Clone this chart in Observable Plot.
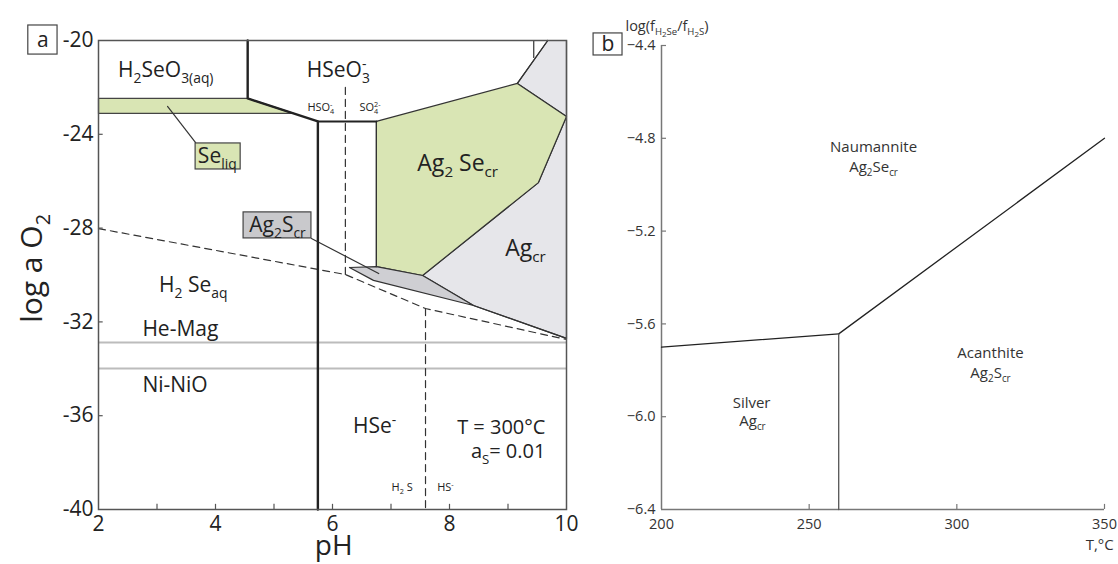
<!DOCTYPE html>
<html><head><meta charset="utf-8">
<script src="https://cdn.jsdelivr.net/npm/d3@7"></script>
<script src="https://cdn.jsdelivr.net/npm/@observablehq/plot@0.6"></script>
<style>
body{margin:0;background:#fff}
#wrap{position:relative;width:1118px;height:564px;overflow:hidden;background:#fff}
#pa,#pb{position:absolute;top:0}
#pa{left:0}
#pb{left:580px}
</style>
</head><body>
<div id="wrap"><div id="pa"></div><div id="pb"></div></div>
<script>
// ---------- Panel a data (pH, log aO2) ----------
const xTicksA = [2, 4, 6, 8, 10];
const xMinorA = [3, 4, 5, 6, 7, 8, 9];
const yTicksA = [-40, -36, -32, -28, -24, -20];
const agRegion = [[9.68,-20],[10,-20],[10,-32.7],[8.41,-31.30],[7.54,-30.02],[9.52,-26.06],[10,-23.24],[9.16,-21.83],[9.68,-20]];
const ag2seRegion = [[6.75,-23.45],[9.16,-21.83],[10,-23.24],[9.52,-26.06],[7.54,-30.02],[6.75,-29.64],[6.75,-23.45]];
const seLiqBand = [[2,-22.47],[4.55,-22.47],[5.33,-23.11],[2,-23.11],[2,-22.47]];
const ag2sRegion = [[6.29,-29.68],[6.75,-29.64],[7.54,-30.02],[8.41,-31.30],[6.70,-30.23],[6.29,-29.68]];
const thickLine = [[4.55,-20],[4.55,-22.47],[5.75,-23.45],[5.75,-40]];
const shelfLine = [[5.75,-23.45],[6.75,-23.45]];
const thinLines = [
  [[6.75,-23.45],[6.75,-29.64]],
  [[9.44,-20],[9.44,-20.72]],
  [[9.68,-20],[9.16,-21.83]],
  [[8.41,-31.30],[10,-32.7]],
  [[5.64,-28.44],[6.79,-29.94]],
  [[3.18,-22.81],[3.66,-24.35]]
];
const dashedLines = [
  [[2,-28.02],[6.22,-29.98],[7.59,-31.43],[10,-32.75]],
  [[6.22,-22.0],[6.22,-29.98]],
  [[7.59,-31.43],[7.59,-40]]
];
const buffers = [-32.88, -33.99];
const boxesA = [
  {x1:3.66, x2:4.43, y1:-24.39, y2:-25.50, fill:"#d9e5b4"},
  {x1:4.48, x2:5.64, y1:-27.33, y2:-28.44, fill:"#c9c9cc"},
  {x1:0.80, x2:1.30, y1:-19.36, y2:-20.60, fill:"#ffffff"}
];
const labelsMidA = [
  {t:"H_{2}SeO_{3(aq)}", x:3.15, y:-21.28, s:21},
  {t:"HSeO_{3}^{-}", x:6.10, y:-21.28, s:21},
  {t:"HSO_{4}^{-}", x:5.80, y:-22.86, s:11},
  {t:"SO_{4}^{2-}", x:6.64, y:-22.86, s:11},
  {t:"Ag_{2} Se_{cr}", x:8.14, y:-25.25, s:23},
  {t:"Ag_{cr}", x:9.30, y:-28.87, s:23},
  {t:"H_{2} Se_{aq}", x:3.62, y:-30.45, s:21},
  {t:"HSe^{-}", x:6.72, y:-36.45, s:21},
  {t:"H_{2} S", x:7.19, y:-39.06, s:11},
  {t:"HS^{-}", x:7.93, y:-39.06, s:11},
  {t:"Se_{liq}", x:4.03, y:-24.95, s:21},
  {t:"Ag_{2}S_{cr}", x:5.06, y:-27.89, s:21},
  {t:"a", x:1.05, y:-19.98, s:21},
  {t:"pH", x:6.02, y:-41.55, s:28}
];
const labelsStartA = [
  {t:"He-Mag", x:2.75, y:-32.32, s:21},
  {t:"Ni-NiO", x:2.75, y:-34.71, s:21}
];
const labelsEndA = [
  {t:"T = 300°C", x:9.64, y:-36.5, s:20},
  {t:"a_{S}= 0.01", x:9.64, y:-37.55, s:20}
];
const yTitleA = [{t:"log a O_{2}", x:0.87, y:-29.72}];

// ---------- Panel b data (T °C, log fH2Se/fH2S) ----------
const xTicksB = [200, 250, 300, 350];
const yTicksB = [-6.4, -6.0, -5.6, -5.2, -4.8, -4.4];
const silverBoundary = [[200,-5.70],[260,-5.643]];
const naumBoundary = [[260,-5.643],[350,-4.80]];
const acanBoundary = [[260,-5.643],[260,-6.4]];
const labelsMidB = [
  {t:"Naumannite", x:271.8, y:-4.84},
  {t:"Ag_{2}Se_{cr}", x:271.8, y:-4.926},
  {t:"Silver", x:230.5, y:-5.943},
  {t:"Ag_{cr}", x:230.8, y:-6.021},
  {t:"Acanthite", x:311.4, y:-5.728},
  {t:"Ag_{2}S_{cr}", x:311.4, y:-5.814}
];
const boxB = [{x1:177.0, x2:186.8, y1:-4.348, y2:-4.443}];
const letterB = [{t:"b", x:181.9, y:-4.396}];
const yTitleB = [{t:"log(f_{H}__{2}_{Se}/f_{H}__{2}_{S})", x:187.8, y:-4.318}];
const xTitleB = [{t:"T,°C", x:353.1, y:-6.555}];

const FONT = "'Open Sans', 'Noto Sans', sans-serif";
const px = d => d[0], py = d => d[1];

// rich text: _{sub} __{subsub} ^{sup}
function parseRich(s) {
  const re = /(__|_|\^)\{([^}]*)\}/g;
  const out = []; let last = 0, m;
  while ((m = re.exec(s))) {
    if (m.index > last) out.push({t: s.slice(last, m.index), k: "n"});
    out.push({t: m[2], k: m[1] === "__" ? "ss" : m[1] === "_" ? "sub" : "sup"});
    last = re.lastIndex;
  }
  if (last < s.length) out.push({t: s.slice(last), k: "n"});
  return out;
}
function richify(svg) {
  const K = {n:[0,1], sub:[0.26,0.66], ss:[0.44,0.55], sup:[-0.4,0.66]};
  svg.querySelectorAll("text").forEach(t => {
    const s = t.textContent;
    if (!/[_^]\{/.test(s)) return;
    const fs = parseFloat(getComputedStyle(t).fontSize);
    const segs = parseRich(s);
    t.textContent = "";
    let cur = 0, prev = null, prevEl = null;
    for (const g of segs) {
      const [off, sz] = K[g.k];
      const ts = document.createElementNS("http://www.w3.org/2000/svg", "tspan");
      ts.textContent = g.t;
      ts.setAttribute("font-size", (fs * sz).toFixed(2));
      const o = off * fs;
      if (o !== cur) ts.setAttribute("dy", (o - cur).toFixed(2));
      cur = o;
      t.appendChild(ts);
      if (g.k === "sup" && prev && prev.k === "sub") ts.setAttribute("dx", (-prevEl.getComputedTextLength()).toFixed(2));
      prev = g; prevEl = ts;
    }
  });
}

// ---------- Panel a ----------
const plotA = Plot.plot({
  width: 580, height: 564,
  marginLeft: 98, marginRight: 14, marginTop: 40, marginBottom: 55,
  style: {fontFamily: FONT, background: "transparent", overflow: "visible"},
  x: {domain: [2, 10]},
  y: {domain: [-40, -20]},
  marks: [
    Plot.line(agRegion, {x: px, y: py, fill: "#e6e6ea", stroke: "#333", strokeWidth: 1.2}),
    Plot.line(ag2seRegion, {x: px, y: py, fill: "#d9e5b4", stroke: "#333", strokeWidth: 1.2}),
    Plot.line(seLiqBand, {x: px, y: py, fill: "#d9e5b4", stroke: "#444", strokeWidth: 1.2}),
    Plot.line(ag2sRegion, {x: px, y: py, fill: "#cfcfd3", stroke: "#333", strokeWidth: 1.2}),
    Plot.ruleY(buffers, {stroke: "#bcbcbc", strokeWidth: 2}),
    ...dashedLines.map(l => Plot.line(l, {x: px, y: py, stroke: "#333", strokeWidth: 1.2, strokeDasharray: "7,5"})),
    ...thinLines.map(l => Plot.line(l, {x: px, y: py, stroke: "#333", strokeWidth: 1.2})),
    Plot.line(shelfLine, {x: px, y: py, stroke: "#222", strokeWidth: 2}),
    Plot.line(thickLine, {x: px, y: py, stroke: "#222", strokeWidth: 2.4}),
    Plot.frame({stroke: "#555", strokeWidth: 1.5}),
    Plot.ruleX(xMinorA, {y1: -40, y2: -39.78, stroke: "#555", strokeWidth: 1.2}),
    Plot.ruleY(yTicksA.slice(1, -1), {x1: 2, x2: 2.08, stroke: "#555", strokeWidth: 1.2}),
    Plot.rect(boxesA, {x1: "x1", x2: "x2", y1: "y1", y2: "y2", fill: "fill", stroke: "#444", strokeWidth: 1.2}),
    Plot.text(labelsMidA, {x: "x", y: "y", text: "t", fontSize: "s", fill: "#222", textAnchor: "middle"}),
    Plot.text(labelsStartA, {x: "x", y: "y", text: "t", fontSize: "s", fill: "#222", textAnchor: "start"}),
    Plot.text(labelsEndA, {x: "x", y: "y", text: "t", fontSize: "s", fill: "#222", textAnchor: "end"}),
    Plot.text(yTitleA, {x: "x", y: "y", text: "t", fontSize: 30, fill: "#222", rotate: -90, textAnchor: "middle"}),
    Plot.axisX({ticks: xTicksA, tickSize: 0, tickPadding: 7, fontSize: 21, color: "#222", tickFormat: d => String(d), label: null}),
    Plot.axisY({ticks: yTicksA, tickSize: 0, tickPadding: 5, fontSize: 21, color: "#222", tickFormat: d => String(d), label: null})
  ]
});

// ---------- Panel b ----------
const plotB = Plot.plot({
  width: 538, height: 564,
  marginLeft: 81, marginRight: 14, marginTop: 45, marginBottom: 55,
  style: {fontFamily: FONT, background: "transparent", overflow: "visible"},
  x: {domain: [200, 350]},
  y: {domain: [-6.4, -4.4]},
  marks: [
    Plot.ruleX([200], {stroke: "#777", strokeWidth: 1.5}),
    Plot.ruleY([-6.4], {stroke: "#777", strokeWidth: 1.5}),
    Plot.ruleX(xTicksB.slice(1), {y1: -6.4, y2: -6.378, stroke: "#777", strokeWidth: 1.2}),
    Plot.ruleY(yTicksB.slice(1), {x1: 200, x2: 201.7, stroke: "#777", strokeWidth: 1.2}),
    Plot.line(silverBoundary, {x: px, y: py, stroke: "#222", strokeWidth: 1.3}),
    Plot.line(naumBoundary, {x: px, y: py, stroke: "#222", strokeWidth: 1.3}),
    Plot.line(acanBoundary, {x: px, y: py, stroke: "#555", strokeWidth: 1.3}),
    Plot.rect(boxB, {x1: "x1", x2: "x2", y1: "y1", y2: "y2", fill: "white", stroke: "#444", strokeWidth: 1.2}),
    Plot.text(letterB, {x: "x", y: "y", text: "t", fontSize: 21, fill: "#222"}),
    Plot.text(labelsMidB, {x: "x", y: "y", text: "t", fontSize: 15, fill: "#333", textAnchor: "middle"}),
    Plot.text(yTitleB, {x: "x", y: "y", text: "t", fontSize: 14.5, fill: "#333", textAnchor: "start"}),
    Plot.text(xTitleB, {x: "x", y: "y", text: "t", fontSize: 15, fill: "#333", textAnchor: "end"}),
    Plot.axisX({ticks: xTicksB, tickSize: 0, tickPadding: 9, fontSize: 14.5, color: "#333", tickFormat: d => String(d), label: null}),
    Plot.axisY({ticks: yTicksB, tickSize: 0, tickPadding: 6, fontSize: 14.5, color: "#333", tickFormat: d => d.toFixed(1).replace("-", "\u2212"), label: null})
  ]
});

document.getElementById("pa").appendChild(plotA);
document.getElementById("pb").appendChild(plotB);
richify(plotA);
richify(plotB);
</script>
</body></html>
